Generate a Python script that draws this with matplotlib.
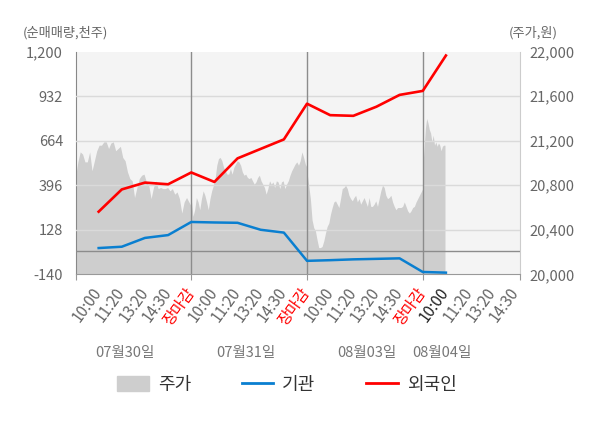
import numpy as np
import matplotlib
matplotlib.use('Agg')
import matplotlib.pyplot as plt
import matplotlib.transforms as mtransforms
from matplotlib.patches import Patch
from matplotlib.lines import Line2D

plt.rcParams['font.family'] = ['Noto Sans CJK KR', 'DejaVu Sans']

# x tick labels (one slot per label, 장마감 = day close)
tick_labels = ['10:00', '11:20', '13:20', '14:30', '장마감'] * 3 + ['10:00', '11:20', '13:20', '14:30']
current_slot = 16  # latest time slot, drawn dark
dates = ['07월30일', '07월31일', '08월03일', '08월04일']
date_pos = [2.14, 7.36, 12.59, 15.83]

# net buying (천주), points at slots 1..16
inst = [18, 26, 79, 96, 175, 172, 170, 128, 111, -59, -55, -50, -47, -44, -126, -130]
foreign = [237, 371, 412, 402, 473, 416, 558, 615, 672, 887, 818, 814, 869, 940, 964, 1177]

# price (원), intraday samples per day
price_d1 = [20870, 21010, 21100, 21080, 21010, 21010, 21100, 20930, 21020, 21110,
            21160, 21160, 21190, 21190, 21130, 21180, 21190, 21110, 21130, 21150,
            21050, 21020, 20920, 20860, 20840, 20690, 20780, 20860, 20890, 20900,
            20830, 20800, 20680, 20780, 20840, 20770, 20780, 20770, 20770, 20780,
            20750, 20770, 20720, 20740, 20680, 20550, 20650, 20690, 20650, 20610]
price_d2 = [20680, 20520, 20580, 20690, 20650, 20580, 20680, 20750, 20710, 20650,
            20580, 20680, 20750, 20800, 20860, 20980, 21040, 21050, 21020, 20960,
            20930, 20900, 20900, 20950, 20900, 20960, 20990, 21020, 21010, 20980,
            20920, 20890, 20900, 20870, 20860, 20870, 20840, 20810, 20830, 20870,
            20890, 20840, 20810, 20780, 20720, 20770, 20840, 20810, 20830, 20780,
            20840, 20830, 20770, 20830, 20840, 20770, 20810, 20840, 20890, 20930,
            20960, 20990, 21010, 20980, 21020, 21100, 21050, 20990, 20960]
price_d3 = [20920, 20800, 20680, 20490, 20420, 20390, 20310, 20240, 20240, 20250,
            20300, 20370, 20430, 20460, 20540, 20600, 20650, 20660, 20630, 20600,
            20680, 20770, 20780, 20800, 20770, 20710, 20680, 20660, 20690, 20710,
            20650, 20680, 20630, 20660, 20690, 20650, 20610, 20690, 20610, 20610,
            20630, 20660, 20610, 20680, 20750, 20800, 20780, 20710, 20680, 20690,
            20710, 20650, 20610, 20580, 20600, 20600, 20600, 20610, 20650, 20610,
            20570, 20550, 20570, 20600, 20610, 20650, 20680, 20710, 20740, 20770]
price_d4 = [20950, 21130, 21310, 21400, 21360, 21300, 21270, 21190, 21250, 21160,
            21190, 21150, 21180, 21160, 21110, 21150, 21160, 21160]
day4_slots = 0.96  # slots of day 4 traded so far

slots_per_day = 5
x_max = 19.2

fig = plt.figure(figsize=(6, 4.28), dpi=100)
ax = fig.add_axes([75.5 / 600, 1 - 274.3 / 428, 444.5 / 600, 222.6 / 428])
ax.set_facecolor('#f4f4f4')

# price area on the base axes, right side scale
for d, pr in enumerate([price_d1, price_d2, price_d3, price_d4]):
    span = day4_slots if d == 3 else slots_per_day
    xs = d * slots_per_day + np.linspace(0, span, len(pr))
    ax.fill_between(xs, 20000, pr, color='#cecece', lw=0)

ax.set_xlim(0, x_max)
ax.set_ylim(20000, 22000)

ax.xaxis.remove_overlapping_locs = False
ax.set_xticks([0, 5, 10, 15, x_max])
ax.set_xticklabels([])
ax.tick_params(axis='x', which='major', length=4, color='#999999')
ax.set_xticks(np.arange(1, 20), minor=True)
ax.set_xticklabels(tick_labels, minor=True, rotation=54, ha='right', va='center',
                   rotation_mode='anchor', fontsize=11)
ax.tick_params(axis='x', which='minor', length=0, pad=11)
for i, lab in enumerate(ax.get_xticklabels(minor=True)):
    if lab.get_text() == '장마감':
        lab.set_color('red')
    elif i + 1 == current_slot:
        lab.set_color('#222222')
    else:
        lab.set_color('#666666')

ax.spines['top'].set_visible(False)
ax.spines['left'].set_color('#888888')
ax.spines['bottom'].set_color('#999999')
ax.spines['right'].set_color('#cccccc')

# investor lines on a twin axes, left side scale
ax2 = ax.twinx()
ax.yaxis.tick_right()
ax.set_yticks(np.arange(20000, 22001, 400))
ax.set_yticklabels(['{:,}'.format(v) for v in range(20000, 22001, 400)])
ax.tick_params(axis='y', length=0, pad=7, labelsize=10.5, labelcolor='#666666')

ax2.yaxis.tick_left()
ax2.set_ylim(-140, 1200)
lticks = [-140, 128, 396, 664, 932, 1200]
ax2.set_yticks(lticks)
ax2.set_yticklabels(['{:,}'.format(v) for v in lticks])
ax2.tick_params(axis='y', length=0, pad=9, labelsize=10.5, labelcolor='#666666')
for s in ax2.spines.values():
    s.set_visible(False)

for v in lticks[1:-1]:
    ax2.axhline(v, color='#dadada', lw=1, zorder=1)
ax2.axhline(0, color='#8c8c8c', lw=1, zorder=1)
for d in range(1, 4):
    ax2.axvline(d * slots_per_day, color='#8c8c8c', lw=1, zorder=1)

xi = np.arange(1, len(inst) + 1)
ax2.plot(xi, inst, color='#0a7fd0', lw=1.8, zorder=3)
ax2.plot(xi, foreign, color='#ff0000', lw=1.9, zorder=4)

trans = mtransforms.blended_transform_factory(ax.transData, fig.transFigure)
for p, t in zip(date_pos, dates):
    ax.text(p, 1 - 353 / 428, t, transform=trans, ha='center', va='center',
            fontsize=10.5, color='#777777')

fig.text(23 / 600, 1 - 33 / 428, '(순매매량,천주)', ha='left', va='center',
         fontsize=9.5, color='#666666')
fig.text(509 / 600, 1 - 33 / 428, '(주가,원)', ha='left', va='center',
         fontsize=9.5, color='#666666')

handles = [Patch(color='#cecece', label='주가'),
           Line2D([], [], color='#0a7fd0', lw=2, label='기관'),
           Line2D([], [], color='#ff0000', lw=2, label='외국인')]
leg = fig.legend(handles=handles, loc='center', bbox_to_anchor=(287 / 600, 1 - 385 / 428),
                 ncol=3, frameon=False, fontsize=13, handlelength=1.75, handleheight=0.9,
                 handletextpad=0.5, columnspacing=2.8)
for t in leg.get_texts():
    t.set_color('#333333')

fig.savefig('out.png', dpi=100)
